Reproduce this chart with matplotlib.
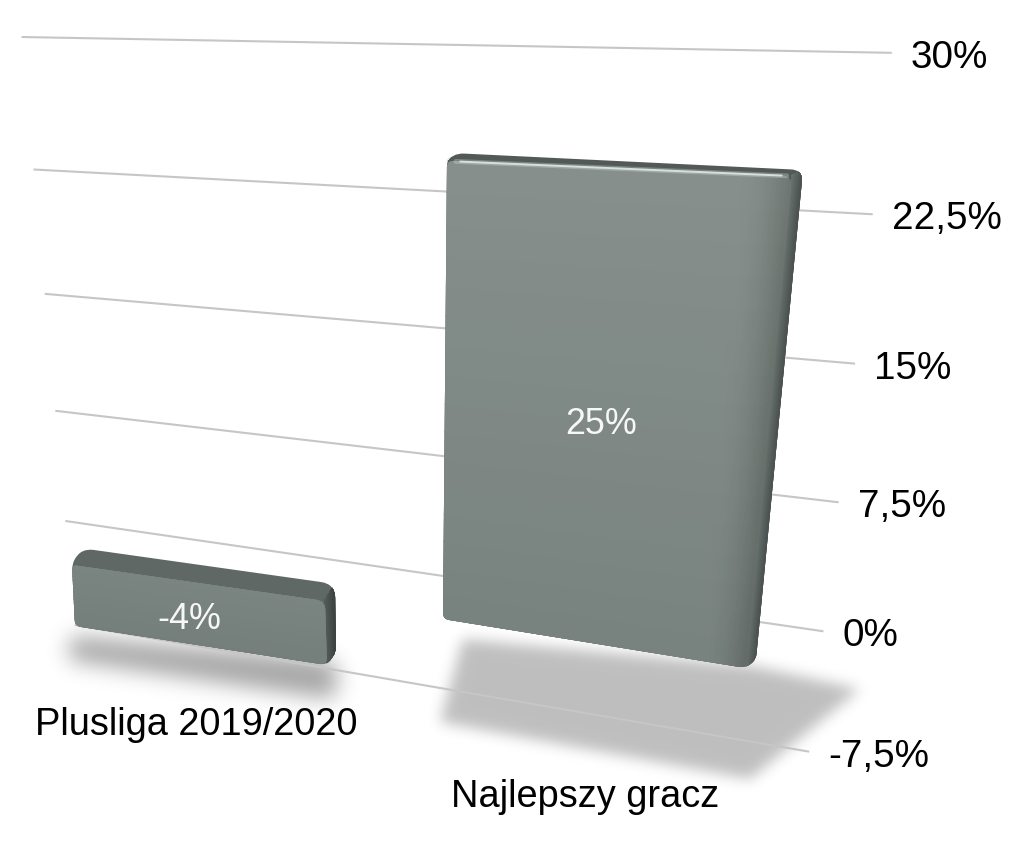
import numpy as np
import matplotlib
matplotlib.use("Agg")
import matplotlib.pyplot as plt
from matplotlib.transforms import Transform
from matplotlib.path import Path
from matplotlib.patches import PathPatch
from matplotlib.collections import PolyCollection
from matplotlib.colors import to_rgb

# ---------- data ----------
categories = ["Plusliga 2019/2020", "Najlepszy gracz"]
values = [-4, 25]
value_labels = ["-4%", "25%"]
grid_values = [-7.5, 0, 7.5, 15, 22.5, 30]
grid_labels = ["-7,5%", "0%", "7,5%", "15%", "22,5%", "30%"]

# ---------- perspective calibration (axis coordinate -> pixel) ----------
BAR_W = 0.36
X_C = [0.5, 1.5]
x1a, x1b, x2a, x2b = X_C[0]-BAR_W, X_C[0]+BAR_W, X_C[1]-BAR_W, X_C[1]+BAR_W
GRID_LEFT = [(75, 627), (65, 521), (55, 411), (45, 295), (33, 171), (22, 38)]
GRID_RIGHT = [(810, 752), (823, 632), (838, 505), (855, 365), (873, 214), (892, 54)]
GRID_CAL = [((0, v), l) for v, l in zip(grid_values, GRID_LEFT)] + \
           [((2, v), r) for v, r in zip(grid_values, GRID_RIGHT)]
FRONT_CAL = [
    [((x1a, 0), (72, 566)), ((x1b, 0), (325, 602)), ((x1a, -4), (75, 627)), ((x1b, -4), (327, 666))],
    [((x2a, 25), (447, 162)), ((x2b, 25), (792, 177)), ((x2a, 0), (443, 620)), ((x2b, 0), (746, 669))],
]
BACK_CAL = [
    [((x1a, 0), (80, 549)), ((x1b, 0), (335, 585)), ((x1b, -4), (336, 653)), ((x1a, -4), (85, 610))],
    [((x2a, 25), (452, 154)), ((x2b, 25), (803, 171)), ((x2b, 0), (756, 660)), ((x2a, 0), (448, 612))],
]


def fit_h(cal):
    rows = []
    for (x, y), (u, v) in cal:
        rows.append([x, y, 1, 0, 0, 0, -u*x, -u*y, -u])
        rows.append([0, 0, 0, x, y, 1, -v*x, -v*y, -v])
    return np.linalg.svd(np.array(rows, float))[2][-1].reshape(3, 3)


class Proj(Transform):
    input_dims = output_dims = 2
    is_separable = False
    has_inverse = False
    is_affine = False

    def __init__(self, h):
        super().__init__()
        self.h = h

    def transform_non_affine(self, values):
        p = np.column_stack([np.asarray(values, float), np.ones(len(values))]) @ self.h.T
        return p[:, :2] / p[:, 2:]


GRID = Proj(fit_h(GRID_CAL))
FRONTS = [Proj(fit_h(c)) for c in FRONT_CAL]
BACKS = [Proj(fit_h(c)) for c in BACK_CAL]


def pt(tr, x, y):
    return tr.transform_non_affine([(x, y)])[0]


def rounded(pts, radii):
    verts, codes = [], []
    n = len(pts)
    for i in range(n):
        p, a, b = np.array(pts[i]), np.array(pts[i-1]), np.array(pts[(i+1) % n])
        r = radii[i]
        s = p + (a-p)/np.linalg.norm(a-p)*r
        e = p + (b-p)/np.linalg.norm(b-p)*r
        verts += [s, p, e]
        codes += [Path.LINETO if i else Path.MOVETO, Path.CURVE3, Path.CURVE3]
    verts.append(verts[0])
    codes.append(Path.CLOSEPOLY)
    return Path(np.array(verts), codes)


def mix(c1, c2, t):
    return tuple(np.array(to_rgb(c1))*(1-t) + np.array(to_rgb(c2))*t)


# ---------- figure ----------
fig = plt.figure(figsize=(10.24, 8.54), dpi=100, facecolor="white")
ax = fig.add_axes([0, 0, 1, 1])
ax.axis("off")
plt.rcParams["font.family"] = ["Liberation Sans", "DejaVu Sans"]
data_t = ax.transData

# gridlines + value axis labels
for v, lab in zip(grid_values, grid_labels):
    ax.plot([0, 2], [v, v], color="#c6c6c6", lw=1.5, transform=GRID + data_t, zorder=2.5, solid_capstyle="butt")
    ax.annotate(lab, xy=(2, v), xycoords=GRID + data_t, xytext=(19, -14), textcoords="offset pixels",
                fontsize=27.8, color="#000000", ha="left", va="baseline", zorder=6)

# ---------- floor shadows (offsets from each bar's front base corners) ----------
SHADOW = [
    dict(off=[(0, -4, 10), (0, -6, 34), (1, 6, 34), (1, 12, 6), (1, 0, -5)], sigma=11, alpha=0.36),
    dict(off=[(0, 20, 20), (0, -3, 103), (1, 4, 111), (1, 114, 21), (1, 7, -2)], sigma=7, alpha=0.255),
]
yy, xx = np.mgrid[0:854, 0:1024]
grid_pts = np.column_stack([xx.ravel()+.5, yy.ravel()+.5])
xedges = [(x1a, x1b), (x2a, x2b)]
for (xa, xb), val, fr, sh in zip(xedges, values, FRONTS, SHADOW):
    lo = min(val, 0)
    anchors = [pt(fr, xa, lo), pt(fr, xb, lo)]
    poly = [anchors[i] + (dx, dy) for i, dx, dy in sh["off"]]
    mask = Path(poly).contains_points(grid_pts).reshape(854, 1024).astype(float)
    s = sh["sigma"]
    k = np.exp(-0.5*(np.arange(-3*s, 3*s+1)/s)**2)
    k /= k.sum()
    mask = np.apply_along_axis(lambda r: np.convolve(r, k, "same"), 0, mask)
    mask = np.apply_along_axis(lambda r: np.convolve(r, k, "same"), 1, mask)
    rgba = np.zeros((854, 1024, 4))
    rgba[..., 3] = mask * sh["alpha"]
    ax.imshow(rgba, extent=(0, 1024, 854, 0), origin="upper", aspect="auto", zorder=2, interpolation="nearest")

# ---------- bars ----------
STYLE = [
    dict(top="#606865", face="#7a8480", face2="#747e7a", side0="#565e5b", side1="#3c4240",
         edge=0.0, hi=0.0, r=14, fr=[5, 9, 7, 6]),
    dict(top="#525956", face="#868f8b", face2="#78827e", side0="#6a7470", side1="#4c5250",
         edge=0.14, hi=1.0, r=12, fr=[6, 10, 7, 6]),
]
for val, (xa, xb), st, FRONT, BACK in zip(values, xedges, STYLE, FRONTS, BACKS):
    hi, lo = max(val, 0), min(val, 0)
    sil = [pt(BACK, xa, hi), pt(BACK, xb, hi), pt(BACK, xb, lo), pt(FRONT, xb, lo), pt(FRONT, xa, lo), pt(FRONT, xa, hi)]
    r = st["r"]
    sil_path = rounded(sil, [r, r, 5, 7, 6, 5])
    ax.add_patch(PathPatch(sil_path, fc=st["top"], ec="none", zorder=3))

    # side face
    n = 16
    polys, cols = [], []
    a, b = pt(FRONT, xb, hi), pt(FRONT, xb, lo)
    c, d = pt(BACK, xb, hi), pt(BACK, xb, lo)
    for i in range(n):
        t0, t1 = i/n, (i+1)/n
        polys.append([a+(c-a)*t0, a+(c-a)*t1, b+(d-b)*t1, b+(d-b)*t0])
        cols.append(mix(st["side0"], st["side1"], (t0+t1)/2))
    side = PolyCollection(polys, facecolors=cols, edgecolors=cols, linewidths=0.8, zorder=3.2, antialiaseds=False)
    ax.add_collection(side)
    side.set_clip_path(PathPatch(sil_path, transform=data_t))

    # front face mesh, drawn in value/category coordinates
    nx, ny = 160, 16
    xs = np.linspace(xa, xb, nx+1)
    ys = np.linspace(lo, hi, ny+1)
    polys, cols = [], []
    for i in range(nx):
        for j in range(ny):
            polys.append([(xs[i], ys[j]), (xs[i+1], ys[j]), (xs[i+1], ys[j+1]), (xs[i], ys[j+1])])
            u = ((xs[i]+xs[i+1])/2-xa)/(xb-xa)
            w = ((ys[j]+ys[j+1])/2-lo)/(hi-lo)
            col = np.array(mix(st["face2"], st["face"], w))
            if st["edge"]:
                col = col*(1-0.18*np.clip((u-(1-st["edge"]))/st["edge"], 0, 1)**2)
            cols.append(tuple(col))
    front = PolyCollection(polys, facecolors=cols, edgecolors=cols, linewidths=0.8, zorder=3.4,
                           transform=FRONT + data_t, antialiaseds=False)
    ax.add_collection(front)
    front_path = rounded([pt(FRONT, xa, hi), pt(FRONT, xb, hi), pt(FRONT, xb, lo), pt(FRONT, xa, lo)], st["fr"])
    front.set_clip_path(PathPatch(front_path, transform=data_t))

    if st["hi"]:
        ax.plot([xa+0.02, xb-0.01], [hi, hi], color="#dfe8e4", lw=3.5, alpha=0.3, transform=FRONT + data_t, zorder=3.6,
                solid_capstyle="round")
        ax.plot([xa+0.03, xb-0.02], [hi, hi], color="#d6e0dc", lw=1.4, transform=FRONT + data_t, zorder=3.7,
                solid_capstyle="round")

# value labels and category labels
VAL_OFF = [(-7, -14), (1, -13)]
for val, lab, xc, off, fr in zip(values, value_labels, X_C, VAL_OFF, FRONTS):
    ax.annotate(lab, xy=(xc, val/2), xycoords=fr + data_t, xytext=off, textcoords="offset pixels",
                fontsize=25.8, color="#f7f7f7", ha="center", va="baseline", zorder=5)
CAT_OFF = [(0.5, -151), (-4, -163)]
for cat, xc, off, fr in zip(categories, X_C, CAT_OFF, FRONTS):
    ax.annotate(cat, xy=(xc, 0), xycoords=fr + data_t, xytext=off, textcoords="offset pixels",
                fontsize=27.4, color="#000000", ha="center", va="baseline", zorder=6)

ax.set_xlim(0, 1024)
ax.set_ylim(854, 0)
fig.savefig("out.png", dpi=100, facecolor="white")
